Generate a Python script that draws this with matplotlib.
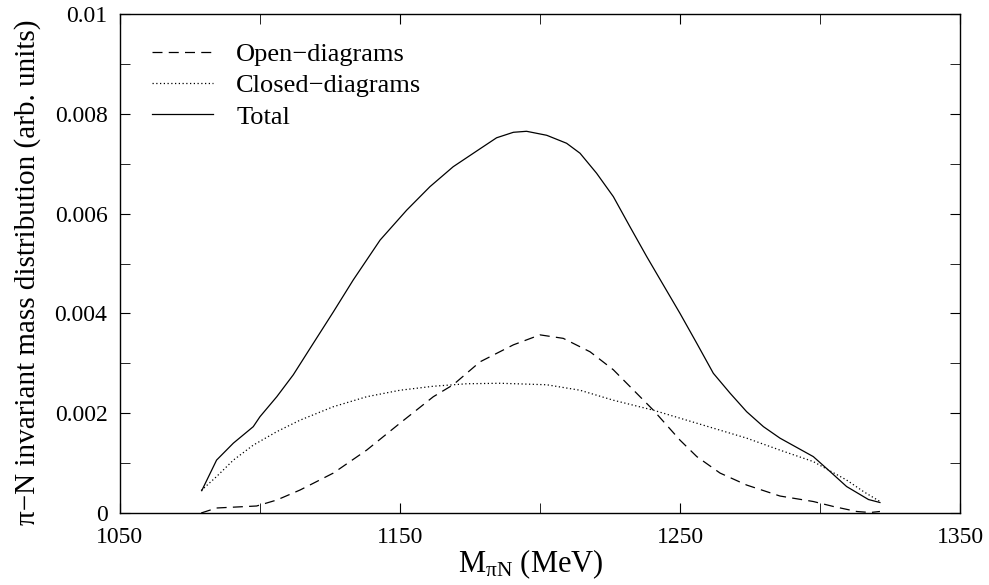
import matplotlib
matplotlib.use("Agg")
from matplotlib import pyplot as plt

plt.rcParams['font.family'] = ['Liberation Serif', 'DejaVu Serif']
plt.rcParams['mathtext.fontset'] = 'custom'
plt.rcParams['mathtext.rm'] = 'Liberation Serif'
plt.rcParams['mathtext.it'] = 'Liberation Serif:italic'

# values
open_mass = [1079, 1084.5, 1098.8, 1106, 1114.3, 1126.2, 1138.1, 1150, 1161.9, 1169,
             1178.6, 1190.5, 1200, 1208.3, 1217.9, 1226.2, 1234.5, 1240.5, 1250, 1256,
             1264.3, 1273.8, 1285.7, 1297.6, 1304.8, 1313.1, 1317.9, 1321.4]
open_val = [0.0, 0.0001, 0.00014, 0.00026, 0.00046, 0.0008, 0.00126, 0.0018, 0.00233, 0.00257,
            0.00303, 0.00337, 0.00357, 0.0035, 0.00323, 0.00287, 0.0024, 0.00206, 0.00146, 0.00113,
            0.0008, 0.00056, 0.00034, 0.00023, 0.00013, 0.00003, 0.00001, 0.00003]

closed_mass = [1079, 1084.5, 1090.5, 1097.6, 1106, 1114.3, 1126.2, 1138.1, 1150, 1161.9,
               1173.8, 1185.7, 1202.4, 1214.3, 1226.2, 1240.5, 1250, 1261.9, 1273.8,
               1285.7, 1297.6, 1309.5, 1315.5, 1321.4]
closed_val = [0.00045, 0.00073, 0.00106, 0.00136, 0.00163, 0.00186, 0.00213, 0.00233, 0.00246, 0.00254,
              0.00259, 0.0026, 0.00257, 0.00246, 0.00226, 0.00206, 0.0019, 0.0017, 0.0015,
              0.00126, 0.00103, 0.00066, 0.00043, 0.00023]

total_mass = [1079.2, 1084.5, 1090.5, 1097.6, 1100, 1106, 1111.9, 1117.9, 1126.2, 1133.3,
              1142.9, 1152.4, 1160.7, 1169, 1178.6, 1184.5, 1190.5, 1195.2, 1202.4, 1209.5,
              1214.3, 1220.2, 1226.2, 1232.1, 1238.1, 1243, 1250, 1256, 1261.9, 1267.9,
              1273.8, 1279.8, 1285.7, 1297.6, 1303.6, 1309.5, 1317.3, 1321.4]
total_val = [0.000447, 0.00106, 0.0014, 0.00173, 0.00193, 0.00233, 0.00277, 0.0033, 0.00403, 0.00467,
             0.00547, 0.00607, 0.00654, 0.00694, 0.0073, 0.00752, 0.00763, 0.00765, 0.00757, 0.00741,
             0.00721, 0.00681, 0.00634, 0.00574, 0.00514, 0.00467, 0.004, 0.0034, 0.0028, 0.0024,
             0.00203, 0.00173, 0.0015, 0.00113, 0.00083, 0.00053, 0.00027, 0.00021]

x_ticks = [1050, 1150, 1250, 1350]
x_minor = [1100, 1200, 1300]
y_ticks = [0, 0.002, 0.004, 0.006, 0.008, 0.01]
y_labels = ['0', '0.002', '0.004', '0.006', '0.008', '0.01']
y_minor = [0.001, 0.003, 0.005, 0.007, 0.009]

fig = plt.figure(figsize=(9.89, 5.85), dpi=100)
ax = fig.add_axes([0.1213, 0.1231, 0.8494, 0.8529])

ax.plot(open_mass, open_val, color='black', lw=0.9, dashes=(8, 5), label='Open\u2212diagrams')
ax.plot(closed_mass, closed_val, color='black', lw=0.9, dashes=(1, 2), label='Closed\u2212diagrams')
ax.plot(total_mass, total_val, color='black', lw=0.9, label='Total')

ax.set_xlim(1050, 1350)
ax.set_ylim(0, 0.01)
ax.set_xticks(x_ticks)
ax.set_xticks(x_minor, minor=True)
ax.set_yticks(y_ticks)
ax.set_yticklabels(y_labels)
ax.set_yticks(y_minor, minor=True)
ax.tick_params(which='both', direction='in', top=True, right=True, length=7)
ax.tick_params(axis='x', labelsize=17, pad=10)
ax.tick_params(axis='y', labelsize=17, pad=9)
for s in ax.spines.values():
    s.set_linewidth(1.0)

ax.set_xlabel(r'M$_{\mathrm{\pi N}}$ (MeV)', fontsize=22, labelpad=0)
ax.set_ylabel('\u03c0\u2212N invariant mass distribution (arb. units)', fontsize=21, labelpad=10)
ax.xaxis.label.set_x(0.489)
ax.yaxis.label.set_y(0.483)

ax.legend(loc='upper left', frameon=False, fontsize=19, handlelength=2.3, handletextpad=0.9,
          labelspacing=0.3, borderaxespad=0, borderpad=0, bbox_to_anchor=(0.038, 0.943))

fig.savefig('out.png', dpi=100)
